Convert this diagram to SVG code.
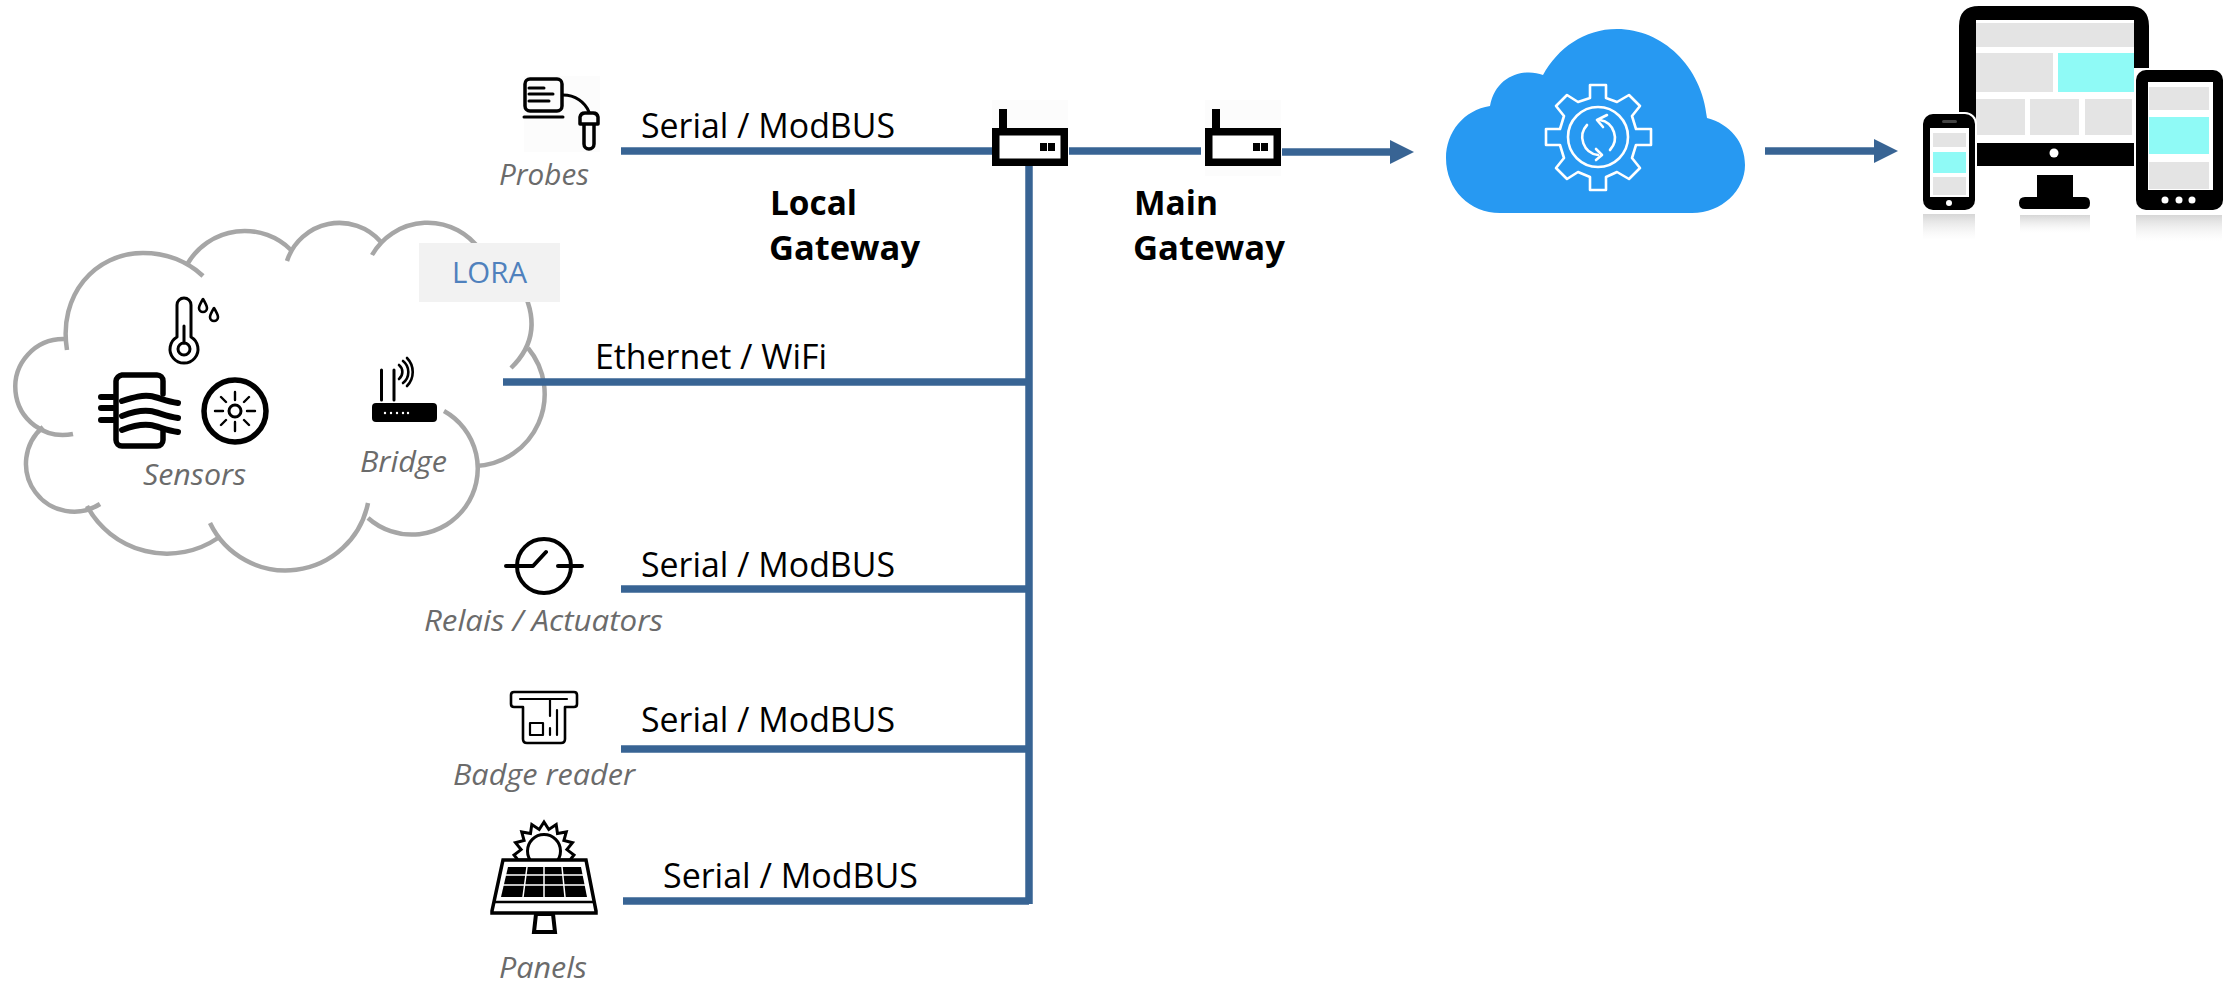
<svg xmlns="http://www.w3.org/2000/svg" width="2232" height="985" viewBox="0 0 2232 985">
<style>
text{font-family:"Open Sans","Noto Sans","Liberation Sans",sans-serif}
.wire{stroke:#386494;stroke-width:7.5;fill:none}
.lbl{font-size:34px;fill:#000}
.bold{font-size:34px;font-weight:700;fill:#000}
.cap{font-size:30px;font-style:italic;fill:#6b6b6b}
.k{fill:none;stroke:#000;stroke-linecap:round;stroke-linejoin:round}
.kf{fill:#000}
.lobe{fill:none;stroke:#a6a6a6;stroke-width:4.5}
.g{fill:#e4e4e4}
.c{fill:#8ffaf6}
.wl{fill:none;stroke:#fff;stroke-width:2.6;stroke-linejoin:round;stroke-linecap:round}
</style>
<defs>
<marker id="ah" markerUnits="userSpaceOnUse" markerWidth="26" markerHeight="24" refX="0" refY="12" orient="auto"><path d="M0 0L24 12L0 24Z" fill="#386494"/></marker>
<linearGradient id="refl" x1="0" y1="0" x2="0" y2="1"><stop offset="0" stop-color="#c4c4c4" stop-opacity=".7"/><stop offset="1" stop-color="#e8e8e8" stop-opacity="0"/></linearGradient>
</defs>
<rect width="2232" height="985" fill="#fff"/>

<g id="lora-cloud">
<path class="lobe" d="M64 339A48 48 0 1 0 73 434"/>
<path class="lobe" d="M43 427A48 48 0 0 0 100 504"/>
<path class="lobe" d="M67 350C58 295 95 253 143 253C168 253 188 262 203 276"/>
<path class="lobe" d="M188 263A66 66 0 0 1 291 250"/>
<path class="lobe" d="M287 261A55 55 0 0 1 381 242"/>
<path class="lobe" d="M372 255A64 64 0 0 1 480 250"/>
<path class="lobe" d="M520 285C534 310 540 340 511 368"/>
<path class="lobe" d="M528 348A72 72 0 0 1 476 466"/>
<path class="lobe" d="M444 411A66 66 0 1 1 368 518"/>
<path class="lobe" d="M368 503A84 84 0 0 1 210 523"/>
<path class="lobe" d="M218 538A91 91 0 0 1 87 506"/>
<rect x="419" y="243" width="141" height="59" fill="#f2f2f2"/>
<text x="452" y="283" font-size="30" fill="#4f81bd" textLength="75" lengthAdjust="spacingAndGlyphs">LORA</text>
</g>

<g id="connectors">
<path class="wire" d="M621 151H992"/>
<path class="wire" d="M1069 151H1201"/>
<path class="wire" d="M1029 166V904"/>
<path class="wire" d="M503 382H1029"/>
<path class="wire" d="M621 589H1029"/>
<path class="wire" d="M621 749H1029"/>
<path class="wire" d="M623 901H1029"/>
<path class="wire" d="M1282 152H1390" marker-end="url(#ah)"/>
<path class="wire" d="M1765 151H1874" marker-end="url(#ah)"/>
</g>

<g id="sensors">
<g id="thermometer">
<path class="k" stroke-width="3" d="M177 337V305A7 7 0 0 1 191 305V337A14 14 0 1 1 177 337Z"/>
<circle class="k" stroke-width="3" cx="184" cy="349" r="6"/>
<path class="k" stroke-width="3" d="M184 326V343"/>
<path class="k" stroke-width="2.6" d="M203 299C200 304 199 306 199 308A4 4 0 0 0 207 308C207 306 206 304 203 299Z"/>
<path class="k" stroke-width="2.6" d="M214 308C211 313 210 315 210 317A4 4 0 0 0 218 317C218 315 217 313 214 308Z"/>
</g>
<g id="filter">
<path class="k" stroke-width="5.5" d="M163 394V381A6 6 0 0 0 157 375H122A7 7 0 0 0 116 381V440A6 6 0 0 0 122 446H157A6 6 0 0 0 163 440V430"/>
<path class="k" stroke-width="6" stroke-linecap="butt" d="M122 401C135 397 142 395 150 396S165 401 178 403M122 416C135 411 142 410 150 411S165 416 178 418M122 430C135 425 142 424 150 425S165 430 178 432M101 397H113M101 408H113M101 420H113"/>
</g>
<g id="disc">
<circle class="k" stroke-width="5.5" cx="235" cy="411" r="31"/>
<circle class="k" stroke-width="3" cx="235" cy="411" r="6"/>
<path class="k" stroke-width="2.4" d="M235 392V400M235 422V431M215 411H223M247 411H255M221 397L226 402M244 420L249 425M249 397L244 402M226 420L221 425"/>
</g>
<text class="cap" x="143" y="485" textLength="103" lengthAdjust="spacingAndGlyphs">Sensors</text>
</g>

<g id="bridge">
<rect class="kf" x="372" y="403" width="65" height="19" rx="4"/>
<path d="M385 413h.01M391 413h.01M397 413h.01M403 413h.01M408 413h.01" stroke="#fff" stroke-width="2.4" stroke-linecap="round"/>
<path class="k" stroke-width="3" stroke-linecap="butt" d="M381.500 370V400M394 370V400"/>
<path class="k" stroke-width="2.6" d="M399 365A9 9 0 0 1 399 379M403 361A14 14 0 0 1 403 383M407 358A20 20 0 0 1 407 386"/>
<text class="cap" x="360" y="472" textLength="87" lengthAdjust="spacingAndGlyphs">Bridge</text>
</g>

<g id="probes">
<rect x="524" y="76" width="76" height="76" fill="#fcfcfc"/>
<rect class="k" stroke-width="3.5" x="525" y="79" width="37" height="32" rx="5"/>
<path class="k" stroke-width="3" d="M529 88H544M529 94H553M529 101H549"/>
<path class="k" stroke-width="3" d="M524 117H563"/>
<path class="k" stroke-width="3" d="M563 95C575 95 585 102 589 112"/>
<path class="k" stroke-width="3.500" d="M580 124V117A5 5 0 0 1 585 113H593A5 5 0 0 1 598 117V124ZM584 124V144A5 5 0 0 0 594 144V124"/>
<text class="cap" x="499" y="185" textLength="90" lengthAdjust="spacingAndGlyphs">Probes</text>
</g>

<g id="local-gateway">
<rect x="992" y="100" width="76" height="66" fill="#fcfcfc"/>
<rect x="999" y="109" width="8" height="20" fill="#000"/>
<rect x="995.750" y="131.750" width="68.500" height="30.500" fill="#fff" stroke="#000" stroke-width="7.500"/>
<rect x="1040" y="143" width="7" height="8" fill="#000"/><rect x="1048" y="143" width="7" height="8" fill="#000"/>
<text class="bold" x="770" y="215" textLength="87" lengthAdjust="spacingAndGlyphs">Local</text>
<text class="bold" x="769" y="260" textLength="151" lengthAdjust="spacingAndGlyphs">Gateway</text>
</g>

<g id="main-gateway">
<rect x="1205" y="100" width="76" height="76" fill="#fcfcfc"/>
<rect x="1212" y="109" width="8" height="20" fill="#000"/>
<rect x="1208.750" y="131.750" width="68.500" height="30.500" fill="#fff" stroke="#000" stroke-width="7.500"/>
<rect x="1253" y="143" width="7" height="8" fill="#000"/><rect x="1261" y="143" width="7" height="8" fill="#000"/>
<text class="bold" x="1134" y="215" textLength="84" lengthAdjust="spacingAndGlyphs">Main</text>
<text class="bold" x="1133" y="260" textLength="152" lengthAdjust="spacingAndGlyphs">Gateway</text>
</g>

<g id="cloud-service">
<path fill="#2799f2" d="M1500 213H1692C1722 213 1745 190 1745 165C1745 142 1730 124 1707 118C1702 66 1662 29 1617 29C1584 29 1558 48 1543 75C1526 68 1496 74 1490 106C1464 110 1446 132 1446 158C1446 190 1470 213 1500 213Z"/>
<g id="gear">
<path class="wl" d="M1590 85H1606V98L1617 102L1629 95L1640 106L1632 116L1636 129H1651V145H1636L1632 158L1640 168L1629 179L1617 172L1606 177V190H1590V177L1578 172L1567 179L1556 168L1564 158L1560 145H1546V129H1560L1564 116L1556 106L1567 95L1578 102L1590 98Z"/>
<circle class="wl" cx="1598" cy="137" r="30"/>
<path class="wl" d="M1600 120A18 18 0 0 1 1610 150M1587 125A18 18 0 0 0 1598 155"/>
<path class="wl" d="M1607 115L1597 120L1603 127M1596 149L1602 155L1596 160"/>
</g>
</g>

<g id="devices">
<rect x="1923" y="214" width="52" height="26" fill="url(#refl)"/>
<rect x="2020" y="215" width="70" height="18" fill="url(#refl)"/>
<rect x="2136" y="215" width="86" height="26" fill="url(#refl)"/>
<g id="monitor">
<path fill="#000" d="M1959 120V26Q1959 6 1979 6H2129Q2149 6 2149 26V70H2134V20H1976V120Z"/>
<rect class="g" x="1976" y="23" width="158" height="24"/>
<rect class="g" x="1976" y="53" width="77" height="39"/>
<rect class="c" x="2058" y="53" width="76" height="39"/>
<rect class="g" x="1976" y="99" width="49" height="36"/>
<rect class="g" x="2030" y="99" width="49" height="36"/>
<rect class="g" x="2085" y="99" width="47" height="36"/>
<rect fill="#000" x="1970" y="143" width="172" height="23"/>
<circle cx="2054" cy="153" r="4.500" fill="#fff"/>
<path fill="#000" d="M2037 175H2073Q2073 175 2073 180V197H2085Q2090 197 2090 203Q2090 209 2085 209H2025Q2019 209 2019 203Q2019 197 2025 197H2037Z"/>
</g>
<g id="tablet">
<rect x="2134" y="68" width="92" height="146" fill="#fff"/>
<rect x="2136" y="70" width="87" height="140" rx="10" fill="#000"/>
<rect x="2148" y="82" width="65" height="108" fill="#fff"/>
<rect class="g" x="2149" y="87" width="60" height="23"/>
<rect class="c" x="2149" y="117" width="60" height="37"/>
<rect class="g" x="2149" y="162" width="60" height="27"/>
<circle cx="2165" cy="200" r="3.500" fill="#fff"/><circle cx="2179" cy="200" r="3.500" fill="#fff"/><circle cx="2192" cy="200" r="3.500" fill="#fff"/>
</g>
<g id="phone">
<rect x="1921" y="112" width="56" height="100" rx="12" fill="#fff"/>
<rect x="1923" y="114" width="52" height="96" rx="10" fill="#000"/>
<rect x="1930" y="128" width="39" height="69" fill="#fff"/>
<rect class="g" x="1933" y="133" width="33" height="14"/>
<rect class="c" x="1933" y="152" width="33" height="21"/>
<rect class="g" x="1933" y="177" width="33" height="18"/>
<rect x="1942" y="120" width="15" height="3" rx="1.500" fill="#444"/>
<circle cx="1949" cy="203" r="3" fill="#fff"/>
</g>
</g>

<g id="relais">
<circle class="k" stroke-width="4" cx="544" cy="566" r="27"/>
<path class="k" stroke-width="4" stroke-linecap="butt" d="M506 566H533L546 552M558 566H582"/>
<text class="cap" x="424" y="631" textLength="239" lengthAdjust="spacingAndGlyphs">Relais / Actuators</text>
</g>

<g id="badge">
<path class="k" stroke-width="2.600" d="M523 707H514Q511 707 511 704V695Q511 692 514 692H574Q577 692 577 695V704Q577 707 574 707H565V739Q565 743 561 743H527Q523 743 523 739Z"/>
<path class="k" stroke-width="2.200" d="M520 699H567M550 699V716M550 728V735M557 710V735"/>
<rect class="k" stroke-width="2.200" x="530" y="723" width="13" height="12"/>
<text class="cap" x="453" y="785" textLength="182" lengthAdjust="spacingAndGlyphs">Badge reader</text>
</g>

<g id="panels">
<path fill="#fff" stroke="#000" stroke-width="3" d="M544 822L548.800 829.500L556.200 824.600L557.500 833.400L566.300 831.900L563.900 840.500L572.500 842.700L566.900 849.600L574 855L570 860H518L514 855L521.100 849.600L515.500 842.700L524.100 840.500L521.700 831.900L530.500 833.400L531.800 824.600L539.200 829.500Z"/>
<circle cx="544" cy="851" r="16.500" fill="#fff" stroke="#000" stroke-width="3"/>
<path fill="#fff" stroke="#000" stroke-width="3.500" d="M503 860H586L596 911V913H492V911Z"/>
<path fill="#000" d="M508 867H581L587 897H501Z"/>
<path fill="none" stroke="#fff" stroke-width="1.500" d="M506 875H583M503 885H585M527 867L523 897M544 867V897M562 867L565 897"/>
<path fill="none" stroke="#000" stroke-width="2.500" d="M494 902H595"/>
<path fill="#fff" stroke="#000" stroke-width="4" d="M536 914H553L555 932H534Z"/>
<text class="cap" x="499" y="978" textLength="88" lengthAdjust="spacingAndGlyphs">Panels</text>
</g>

<g id="labels">
<text class="lbl" x="641" y="138" textLength="254" lengthAdjust="spacingAndGlyphs">Serial / ModBUS</text>
<text class="lbl" x="595" y="369" textLength="232" lengthAdjust="spacingAndGlyphs">Ethernet / WiFi</text>
<text class="lbl" x="641" y="577" textLength="254" lengthAdjust="spacingAndGlyphs">Serial / ModBUS</text>
<text class="lbl" x="641" y="732" textLength="254" lengthAdjust="spacingAndGlyphs">Serial / ModBUS</text>
<text class="lbl" x="663" y="888" textLength="255" lengthAdjust="spacingAndGlyphs">Serial / ModBUS</text>
</g>
</svg>
